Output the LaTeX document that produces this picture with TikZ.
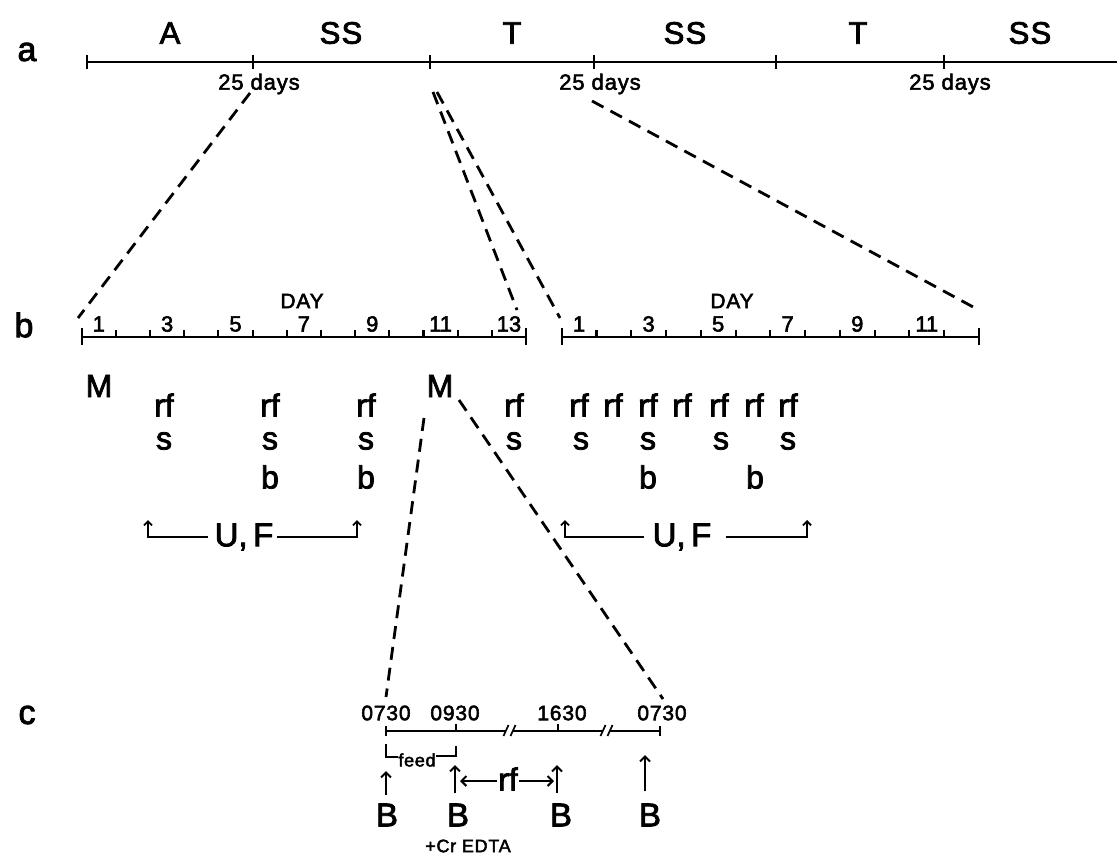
\documentclass[tikz,border=0pt]{standalone}
\usepackage{fontspec}
\setmainfont{Liberation Sans}[FakeBold=2.5]
\newfontfamily\spaced{Liberation Sans}[LetterSpace=4,FakeBold=2.5]
\usetikzlibrary{arrows.meta}
\tikzset{
  axis/.style={line width=2.4pt},
  tickmark/.style={line width=2.1pt},
  zoomline/.style={line width=2.8pt, dash pattern=on 13pt off 8pt},
  rowlab/.style={font=\fontsize{34}{38}\selectfont, inner sep=0pt},
  phase/.style={font=\spaced\fontsize{31}{34}\selectfont, inner sep=0pt},
  daysnote/.style={font=\spaced\fontsize{22}{24}\selectfont, inner sep=0pt},
  daynum/.style={font=\fontsize{22}{24}\selectfont, inner sep=0pt},
  dayhead/.style={font=\spaced\fontsize{21}{23}\selectfont, inner sep=0pt},
  event/.style={font=\fontsize{32}{34}\selectfont, inner sep=0pt},
  hourlab/.style={font=\spaced\fontsize{21}{23}\selectfont, inner sep=0pt},
  small/.style={font=\spaced\fontsize{18}{20}\selectfont, inner sep=0pt},
  bigB/.style={font=\fontsize{33}{36}\selectfont, inner sep=0pt},
  hookarrow/.style={line width=2.2pt, -{Straight Barb[length=4pt,width=8pt,line width=1.9pt]}},
  uparrow/.style={line width=2.3pt, -{Straight Barb[length=5pt,width=10pt,line width=2.1pt]}},
}
\begin{document}
\begin{tikzpicture}[x=1pt,y=-1pt]
\useasboundingbox (0,0) rectangle (1117,857);

% ---------- a: whole experiment time line ----------
\node[rowlab] (rowa) at (27,52) {a};
\coordinate (ta0) at (87,62);
\coordinate (ta1) at (253,62);
\coordinate (ta2) at (430,62);
\coordinate (ta3) at (594,62);
\coordinate (ta4) at (776,62);
\coordinate (ta5) at (944,62);
\coordinate (taend) at (1117,62);
\draw[axis] (ta0) -- (taend);
\foreach \p in {ta0,ta1,ta2,ta3,ta4,ta5}
  \draw[tickmark] ([yshift=7pt]\p) -- ([yshift=-7pt]\p);
\node[phase] (phA)  at (170,33) {A};
\node[phase] (phS1) at (341,33) {SS};
\node[phase] (phT1) at (512,33) {T};
\node[phase] (phS2) at (685,33) {SS};
\node[phase] (phT2) at (858,33) {T};
\node[phase] (phS3) at (1030,33) {SS};
\node[daysnote] (d25a) at (259,84) {25 days};
\node[daysnote] (d25b) at (600,84) {25 days};
\node[daysnote] (d25c) at (950,84) {25 days};

% ---------- b: days within the periods ----------
\node[rowlab] (rowb) at (24,325) {b};
% left scale, days 1-13
\draw[axis] (81.7,337) -- (526,337);
\foreach \i in {1,...,12}
  \draw[tickmark] ({81.7+\i*34.18},337) -- ++(0,-7);
\draw[tickmark] (81.7,328) -- (81.7,345);
\draw[tickmark] (526,328) -- (526,345);
\foreach \k in {1,3,...,13}
  \node[daynum] (bl\k) at ({81.7+(\k-0.5)*34.18},324) {\k};
\node[dayhead] (dayl) at (302,301) {DAY};
% right scale, days 1-12
\draw[axis] (561.7,337) -- (979,337);
\foreach \i in {1,...,11}
  \draw[tickmark] ({561.7+\i*34.77},337) -- ++(0,-7);
\draw[tickmark] (561.7,328) -- (561.7,345);
\draw[tickmark] (979,328) -- (979,345);
\foreach \k in {1,3,...,11}
  \node[daynum] (br\k) at ({561.7+(\k-0.5)*34.77},324) {\k};
\node[dayhead] (dayr) at (732,301) {DAY};

% expansion lines from a to b
\coordinate (z1a) at (250,93);  \coordinate (z1b) at (78,318);
\coordinate (z2a) at (433,92);  \coordinate (z2b) at (517,310);
\coordinate (z3a) at (437,92);  \coordinate (z3b) at (560,318);
\coordinate (z4a) at (592,101); \coordinate (z4b) at (975,308);
\draw[zoomline] (z1a) -- (z1b);
\draw[zoomline] (z2a) -- (z2b);
\draw[zoomline] (z3a) -- (z3b);
\draw[zoomline] (z4a) -- (z4b);

% sampling schedule
\node[event] (m1) at (99,386) {M};
\node[event] (m2) at (440,386) {M};
\foreach \n/\x in {1/164,2/270,3/366,4/514,5/579,6/613,7/648,8/682,9/719,10/754,11/788}
  \node[event] (rf\n) at (\x,405) {rf};
\foreach \n/\x in {1/164,2/270,3/366,4/514,5/581,6/648,7/721,8/788}
  \node[event] (s\n) at (\x,441) {s};
\foreach \n/\x in {1/270,2/366,3/648,4/755}
  \node[event] (b\n) at (\x,477) {b};

% urine and faeces collection periods
\node[bigB] (uf1) at (244,537) {U,\,F};
\coordinate (uf1l) at (148,520);
\coordinate (uf1r) at (357,520);
\draw[hookarrow, shorten <=6pt] (uf1.west) -| (uf1l);
\draw[hookarrow, shorten <=3pt] (uf1.east) -| (uf1r);
\node[bigB] (uf2) at (682,537) {U,\,F};
\coordinate (uf2l) at (565,520);
\coordinate (uf2r) at (807,520);
\draw[hookarrow, shorten <=8pt] (uf2.west) -| (uf2l);
\draw[hookarrow, shorten <=14pt] (uf2.east) -| (uf2r);

% ---------- c: one sampling day ----------
\node[rowlab] (rowc) at (27,715) {c};
\coordinate (z5a) at (424,418); \coordinate (z5b) at (386,697);
\coordinate (z6a) at (459,400); \coordinate (z6b) at (663,699);
\draw[zoomline] (z5a) -- (z5b);
\draw[zoomline] (z6a) -- (z6b);

\draw[axis, line width=2.1pt] (385.7,730.7) -- (506,730.7);
\draw[axis, line width=2.1pt] (513,730.7) -- (603,730.7);
\draw[axis, line width=2.1pt] (610,730.7) -- (660,730.7);
\foreach \x in {506,513,603,610}
  \draw[tickmark, line width=1.7pt] (\x-2.5,736) -- (\x+2.5,725);
\draw[tickmark] (385.7,726) -- (385.7,736);
\draw[tickmark] (660,726) -- (660,736);
\draw[tickmark] (456,730.7) -- (456,724);
\draw[tickmark] (558,730.7) -- (558,724);
\node[hourlab] (h1) at (386,713) {0730};
\node[hourlab] (h2) at (455,713) {0930};
\node[hourlab] (h3) at (562,713) {1630};
\node[hourlab] (h4) at (662,713) {0730};

% feeding period bracket
\node[small, inner sep=1pt] (feed) at (417,760) {feed};
\coordinate (fbl) at (386,744);
\coordinate (fbr) at (456,746);
\draw[line width=1.9pt] (fbl) -- (386,757) -- (398,757);
\draw[line width=1.9pt] (436,756) -- (456,756) -- (fbr);

% blood samples
\node[bigB] (B1) at (387,815) {B};
\node[bigB] (B2) at (458,815) {B};
\node[bigB] (B3) at (561,815) {B};
\node[bigB] (B4) at (650,815) {B};
\coordinate (B1t) at (386,771);
\coordinate (B2t) at (455,765);
\coordinate (B3t) at (557,765);
\coordinate (B4t) at (645,755);
\draw[uparrow] (B1.north -| B1t) ++(0,-8) -- (B1t);
\draw[uparrow] (B2.north -| B2t) ++(0,-10) -- (B2t);
\draw[uparrow] (B3.north -| B3t) ++(0,-10) -- (B3t);
\draw[uparrow] (B4.north -| B4t) ++(0,-12) -- (B4t);
\node[small] (cr) at (468,846) {+Cr EDTA};

% rumen fluid sampling interval
\node[event] (rfc) at (508,779) {rf};
\coordinate (rfl) at (460,781);
\coordinate (rfr) at (554,781);
\draw[uparrow, shorten <=1pt] (rfc.west |- rfl) -- (rfl);
\draw[uparrow, shorten <=1pt] (rfc.east |- rfr) -- (rfr);
\end{tikzpicture}
\end{document}
